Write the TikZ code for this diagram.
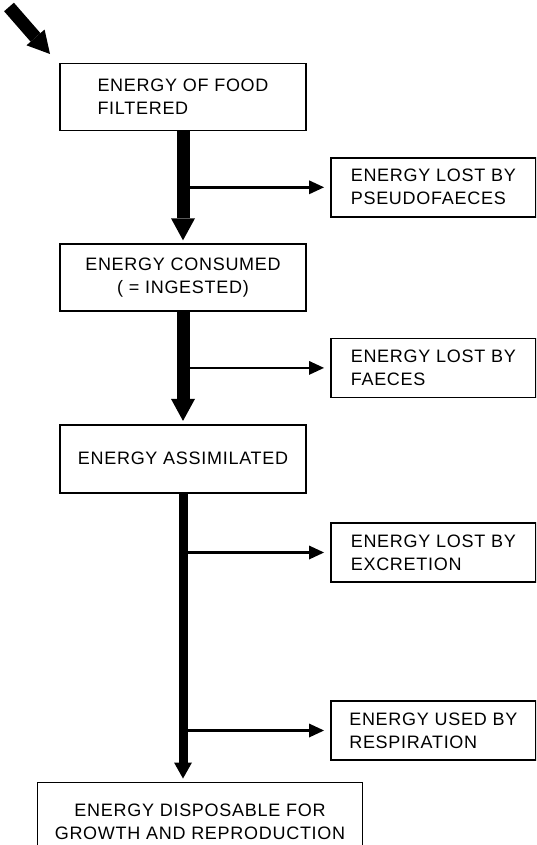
\documentclass[tikz,border=0pt]{standalone}
\usepackage{fontspec}
\setmainfont[LetterSpace=4]{Liberation Sans}
\usetikzlibrary{arrows.meta,positioning}

\begin{document}
\begin{tikzpicture}[x=1pt,y=-1pt,node distance=112pt,
    every node/.style={font=\fontsize{18}{23}\selectfont},
    box/.style={draw,line width=1.6pt,minimum width=246pt,minimum height=67pt,align=center},
    lossbox/.style={draw,line width=1.6pt,minimum width=205pt,minimum height=59pt,align=left},
    flow/.style={line width=13pt,shorten >=3pt,-{Triangle[width=24pt,length=22pt,line width=0pt]}},
    thinflow/.style={line width=9pt,shorten >=3pt,-{Triangle[width=18pt,length=16pt,line width=0pt]}},
    side/.style={line width=2.4pt,shorten >=6pt,-{Triangle[width=14pt,length=15pt,line width=0pt]}}]
    \useasboundingbox (0,0) rectangle (536,845);
    \clip (0,0) rectangle (536,845);

    % main chain
    \node[box,align=left] (food) at (183,97) {ENERGY OF FOOD\\FILTERED};
    \node[box] (cons) [below=of food] {ENERGY CONSUMED\\( = INGESTED)};
    \node[box,minimum height=68pt] (assim) [below=of cons] {ENERGY ASSIMILATED};
    \node[box,minimum width=325pt,minimum height=78pt] (disp) [below=288pt of assim,xshift=17pt]
        {ENERGY DISPOSABLE FOR\\GROWTH AND REPRODUCTION};

    % branch points and losses
    \coordinate[below=56pt of food] (m1);
    \coordinate[below=56pt of cons] (m2);
    \coordinate[below=59pt of assim] (m3);
    \coordinate[below=178pt of m3] (m4);
    \node[lossbox] (pseudo) [right=147pt of m1] {ENERGY LOST BY\\PSEUDOFAECES};
    \node[lossbox] (faeces) [right=147pt of m2] {ENERGY LOST BY\\FAECES};
    \node[lossbox] (excr) [right=147pt of m3] {ENERGY LOST BY\\EXCRETION};
    \node[lossbox] (resp) [right=147pt of m4] {ENERGY USED BY\\RESPIRATION};

    % incoming food
    \coordinate (in) at (9,7);
    \coordinate (inend) at (50,54);

    \draw[flow,shorten >=0pt] (in) -- (inend);
    \draw[flow] (food) -- (cons);
    \draw[flow] (cons) -- (assim);
    \draw[thinflow] (assim.south) -- (assim.south |- disp.north);
    \draw[side] (m1) -- (pseudo);
    \draw[side] (m2) -- (faeces);
    \draw[side] (m3) -- (excr);
    \draw[side] (m4) -- (resp);
\end{tikzpicture}
\end{document}
